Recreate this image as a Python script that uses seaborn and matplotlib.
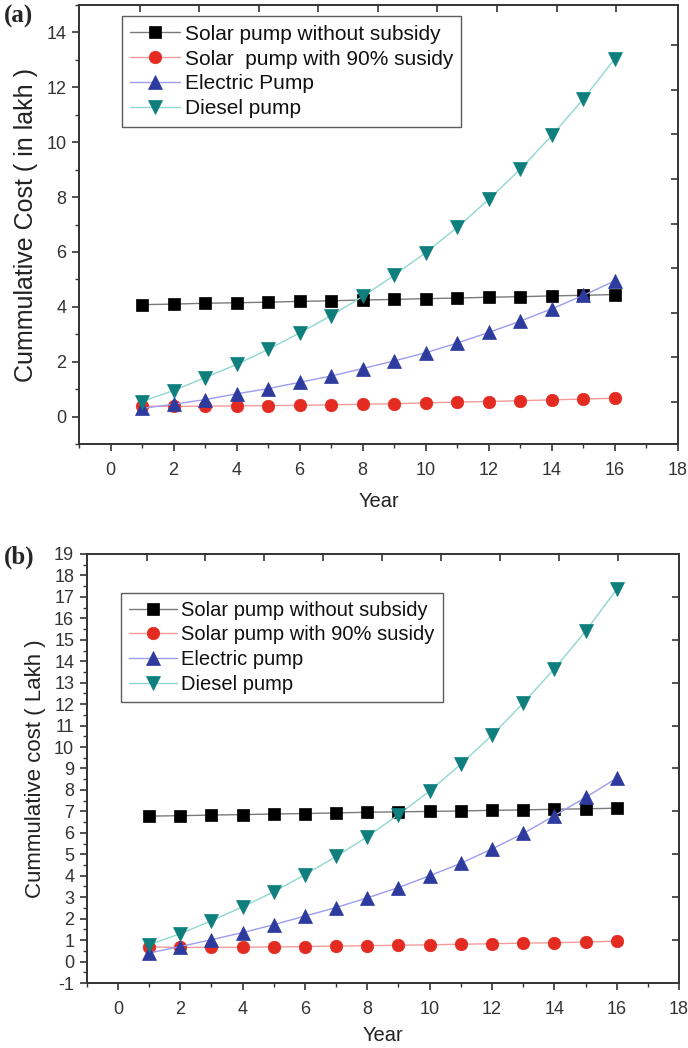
import numpy as np
import pandas as pd
import matplotlib
matplotlib.use("Agg")
import matplotlib.pyplot as plt
import seaborn as sns
from matplotlib.ticker import MultipleLocator

sns.set_theme(style="white")
plt.rcParams['font.family'] = ['Liberation Sans', 'DejaVu Sans']
plt.rcParams['axes.unicode_minus'] = False

years = list(range(1, 17))

# Panel (a)
a_solar = [4.08, 4.10, 4.13, 4.15, 4.17, 4.20, 4.22, 4.25, 4.27, 4.30, 4.32, 4.35, 4.37, 4.40, 4.42, 4.45]
a_solar90 = [0.38, 0.37, 0.38, 0.39, 0.40, 0.41, 0.43, 0.45, 0.47, 0.50, 0.53, 0.55, 0.58, 0.61, 0.64, 0.67]
a_electric = [0.30, 0.45, 0.62, 0.83, 1.02, 1.25, 1.48, 1.75, 2.03, 2.33, 2.68, 3.07, 3.48, 3.93, 4.42, 4.95]
a_diesel = [0.55, 0.95, 1.42, 1.90, 2.45, 3.05, 3.68, 4.38, 5.15, 5.98, 6.90, 7.92, 9.02, 10.25, 11.58, 13.05]
a_names = ["Solar pump without subsidy", "Solar  pump with 90% susidy", "Electric Pump", "Diesel pump"]

# Panel (b)
b_solar = [6.78, 6.80, 6.83, 6.85, 6.88, 6.90, 6.93, 6.96, 6.98, 7.00, 7.02, 7.05, 7.07, 7.10, 7.12, 7.15]
b_solar90 = [0.68, 0.66, 0.66, 0.67, 0.68, 0.70, 0.72, 0.74, 0.76, 0.78, 0.81, 0.83, 0.86, 0.88, 0.91, 0.95]
b_electric = [0.40, 0.70, 1.02, 1.35, 1.72, 2.12, 2.52, 2.97, 3.45, 4.00, 4.58, 5.25, 5.97, 6.80, 7.65, 8.55]
b_diesel = [0.78, 1.30, 1.90, 2.55, 3.25, 4.05, 4.90, 5.82, 6.85, 7.95, 9.20, 10.55, 12.05, 13.65, 15.40, 17.35]
b_names = ["Solar pump without subsidy", "Solar pump with 90% susidy", "Electric pump", "Diesel pump"]

styles = [
    dict(line="#7a7a7a", face="#000000", marker="s", ms=8),
    dict(line="#f59a9a", face="#e32b22", marker="o", ms=9),
    dict(line="#9c9cf0", face="#2d3a9e", marker="^", ms=9.5),
    dict(line="#8fd8cf", face="#0e7f7d", marker="v", ms=9.5),
]

fig = plt.figure(figsize=(6.88, 10.48), dpi=100)
ax_a = fig.add_axes([0.1148, 0.5763, 0.8707, 0.4189])
ax_b = fig.add_axes([0.126, 0.062, 0.861, 0.4094])


def draw(ax, series, names, ylim, ymaj, ymin, ylabel, ylfs, leg_fs, xlpad,
         top_ticks, right_ticks, legend_box):
    for vals, name, st in zip(series, names, styles):
        df = pd.DataFrame({"Year": years, "Cost": vals})
        sns.lineplot(data=df, x="Year", y="Cost", ax=ax, color=st["line"], lw=1.0,
                     marker=st["marker"], markersize=st["ms"], markerfacecolor=st["face"],
                     markeredgecolor=st["face"], markeredgewidth=0.5, label=name)
    ax.set_xlim(-1, 18)
    ax.set_ylim(*ylim)
    ax.xaxis.set_major_locator(MultipleLocator(2))
    ax.xaxis.set_minor_locator(MultipleLocator(1))
    ax.yaxis.set_major_locator(MultipleLocator(ymaj))
    ax.yaxis.set_minor_locator(MultipleLocator(ymin))
    ax.tick_params(axis="both", which="major", direction="out", length=5, width=1.2,
                   labelsize=13, colors="#333333", labelcolor="#333333", pad=4,
                   left=True, bottom=True)
    ax.tick_params(axis="x", which="major", pad=8)
    ax.tick_params(axis="both", which="minor", direction="out", length=3, width=1.0,
                   colors="#333333", left=True, bottom=True)
    for sp in ax.spines.values():
        sp.set_visible(True)
        sp.set_color("#333333")
        sp.set_linewidth(1.4)
    ax.set_xlabel("Year", fontsize=14.5, color="#222222", labelpad=xlpad)
    ax.set_ylabel(ylabel, fontsize=ylfs, color="#222222", labelpad=6)
    sec_x = ax.secondary_xaxis("top")
    sec_x.set_xticks(top_ticks)
    sec_x.tick_params(direction="in", length=5, width=1.2, labeltop=False, colors="#333333")
    sec_x.spines["top"].set_visible(False)
    sec_y = ax.secondary_yaxis("right")
    sec_y.set_yticks(right_ticks)
    sec_y.tick_params(direction="in", length=5, width=1.2, labelright=False, colors="#333333")
    sec_y.spines["right"].set_visible(False)
    leg = ax.legend(loc="upper left", bbox_to_anchor=legend_box, fontsize=leg_fs,
                    frameon=True, fancybox=False, borderpad=0.4, labelspacing=0.28,
                    handlelength=2.4, handletextpad=0.2, borderaxespad=0.0)
    leg.get_frame().set_edgecolor("#333333")
    leg.get_frame().set_linewidth(1.0)
    for t in leg.get_texts():
        t.set_color("#111111")


top_ticks = [0.92 + 1.89 * k for k in range(9)]
draw(ax_a, [a_solar, a_solar90, a_electric, a_diesel], a_names, (-1, 15), 2, 1,
     "Cummulative Cost ( in lakh )", 18, 15, 9, top_ticks,
     [0.54 + 1.624 * k for k in range(9)], (0.072, 0.974))
draw(ax_b, [b_solar, b_solar90, b_electric, b_diesel], b_names, (-1, 19), 1, 0.5,
     "Cummulative cost ( Lakh )", 16, 14.5, 6, top_ticks,
     [1, 3, 5, 7, 9, 11, 13, 15, 17], (0.058, 0.91))

fig.text(0.006, 0.984, "(a)", fontsize=18, fontweight="bold", family="Liberation Serif",
         va="center", ha="left")
fig.text(0.006, 0.468, "(b)", fontsize=18, fontweight="bold", family="Liberation Serif",
         va="center", ha="left")

fig.savefig("out.png", dpi=100)
